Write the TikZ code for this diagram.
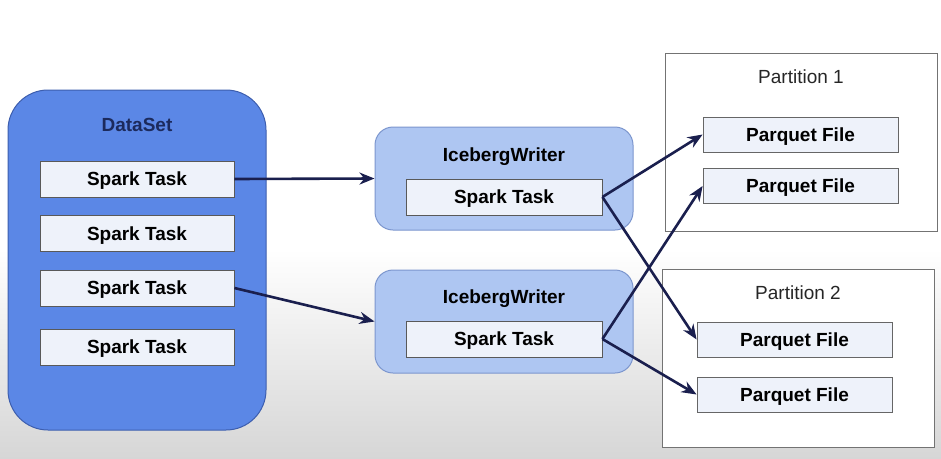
\documentclass[tikz,border=0pt]{standalone}
\usepackage{fontspec}
\setmainfont{Liberation Sans}
\usetikzlibrary{arrows.meta}
\definecolor{dsfill}{HTML}{5B87E6}
\definecolor{dsdraw}{HTML}{3D5EAE}
\definecolor{iwfill}{HTML}{AEC6F2}
\definecolor{iwdraw}{HTML}{7C96CE}
\definecolor{taskfill}{HTML}{EEF2FA}
\definecolor{navy}{HTML}{1A1F4E}
\definecolor{dstext}{HTML}{1C2A5C}
\tikzset{
  x=1pt,y=-1pt,
  txt/.style={font=\fontsize{19}{22}\selectfont, text height=13.6pt, text depth=0pt},
  lbl/.style={txt, font=\fontsize{19}{22}\selectfont\bfseries, text=black},
  stask/.style={draw=black!65, fill=taskfill, line width=0.8pt, minimum width=194pt, minimum height=36pt, inner sep=0pt, lbl},
  pfile/.style={draw=black!60, fill=taskfill, line width=0.8pt, minimum width=195pt, minimum height=35pt, inner sep=0pt, lbl},
  dsbox/.style={draw=dsdraw, fill=dsfill, line width=1pt, rounded corners=40pt, minimum width=258pt, minimum height=340pt, inner sep=0pt},
  iwbox/.style={draw=iwdraw, fill=iwfill, line width=1pt, rounded corners=18pt, minimum width=258pt, minimum height=103pt, inner sep=0pt},
  partbox/.style={draw=black!55, fill=white, line width=0.8pt, minimum width=272pt, minimum height=178pt, inner sep=0pt},
  plbl/.style={txt, text=black!85},
  conn/.style={draw=navy, line width=2.6pt, -{Stealth[length=15pt,width=12pt]}},
}
\begin{document}
\begin{tikzpicture}
\useasboundingbox (0,0) rectangle (941,458);
\fill[white] (0,0) rectangle (941,250);
\shade[top color=white, bottom color=black!16] (0,249) rectangle (941,458);

% DataSet
\node[dsbox] (ds) at (137,260) {};
\node[lbl, text=dstext] (dslbl) at (137,125) {DataSet};
\node[stask] (t1) at (137,179) {Spark Task};
\node[stask] (t2) at (137,233.5) {Spark Task};
\node[stask] (t3) at (137,288) {Spark Task};
\node[stask] (t4) at (137,347) {Spark Task};

% Iceberg writers
\node[iwbox] (iw1) at (504,178.5) {};
\node[lbl] (iw1l) at (504,155) {IcebergWriter};
\node[stask, minimum width=196pt] (w1) at (504,197) {Spark Task};
\node[iwbox] (iw2) at (504,321.5) {};
\node[lbl] (iw2l) at (504,297) {IcebergWriter};
\node[stask, minimum width=196pt] (w2) at (504,339) {Spark Task};

% Partitions
\node[partbox] (p1) at (801,142) {};
\node[plbl] (p1l) at (801,77) {Partition 1};
\node[pfile] (f1) at (800.5,134.5) {Parquet File};
\node[pfile] (f2) at (800.5,186) {Parquet File};
\node[partbox] (p2) at (798,358) {};
\node[plbl] (p2l) at (798,293) {Partition 2};
\node[pfile] (f3) at (794.5,339.5) {Parquet File};
\node[pfile] (f4) at (794.5,394.5) {Parquet File};

% connectors
\draw[conn] (t1.east) -- (iw1.west);
\draw[conn] (t3.east) -- (iw2.west);
\draw[conn] (w1.east) -- (f1.west);
\draw[conn] (w1.east) -- (f3.west);
\draw[conn] (w2.east) -- (f2.west);
\draw[conn] (w2.east) -- (f4.west);
\end{tikzpicture}
\end{document}
